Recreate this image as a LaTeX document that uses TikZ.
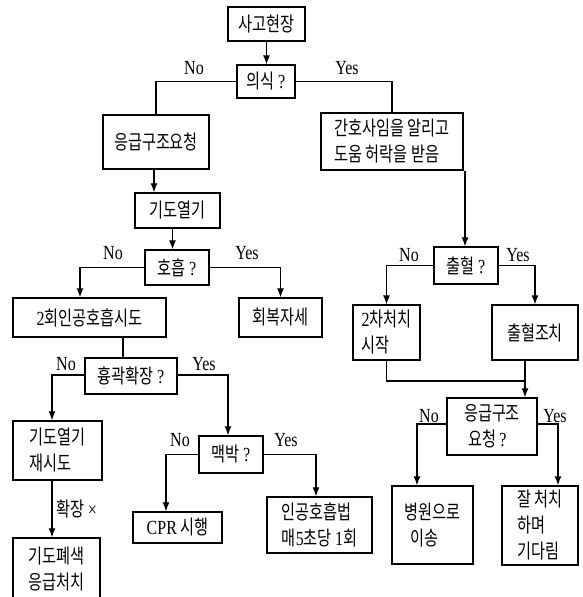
\documentclass[tikz,border=0pt]{standalone}
\usepackage{fontspec}
\setmainfont[FakeStretch=0.76]{Noto Sans CJK KR}
\newfontfamily\lat[FakeStretch=0.8]{Liberation Serif}
\usetikzlibrary{arrows.meta}
\begin{document}
\begin{tikzpicture}[x=1pt,y=-1pt,
  font=\fontsize{20}{26}\selectfont,
  box/.style={draw, line width=1.5pt, inner sep=0pt, align=left, anchor=center},
  conn/.style={line width=1.1pt},
  arr/.style={conn, -{Latex[length=9pt,width=7pt]}},
  lab/.style={font=\lat\fontsize{20}{20}\selectfont, inner sep=0pt}]
\useasboundingbox (0,0) rectangle (582,597);
\clip (0,0) rectangle (582,597);

% boxes
\node[box, minimum width=77pt, minimum height=34pt] (scene) at (266.5,24) {사고현장};
\node[box, minimum width=58pt, minimum height=33pt] (q1) at (266,81.5) {의식 {\lat ?}};
\node[box, minimum width=106pt, minimum height=54pt] (call) at (156,142) {응급구조요청};
\node[box, minimum width=142pt, minimum height=57pt] (notify) at (392,141.5) {간호사임을 알리고\\도움 허락을 받음};
\node[box, minimum width=85pt, minimum height=35pt] (open) at (177.5,210.5) {기도열기};
\node[box, minimum width=64pt, minimum height=35pt] (q2) at (177,267.5) {호흡 {\lat ?}};
\node[box, minimum width=153pt, minimum height=39pt] (rb) at (89.5,317.5) {{\lat 2}회인공호흡시도};
\node[box, minimum width=83pt, minimum height=39pt] (rec) at (280.5,317.5) {회복자세};
\node[box, minimum width=92pt, minimum height=36pt] (q3) at (131,376) {흉곽확장 {\lat ?}};
\node[box, minimum width=89pt, minimum height=59pt] (retry) at (57.5,450.5) {기도열기\\재시도};
\node[box, minimum width=87pt, minimum height=62pt] (obst) at (56.5,569) {기도폐색\\응급처치};
\node[box, minimum width=64pt, minimum height=37pt] (q4) at (231,454.5) {맥박 {\lat ?}};
\node[box, minimum width=89pt, minimum height=31pt] (cpr) at (177.5,527.5) {{\lat CPR} 시행};
\node[box, minimum width=105pt, minimum height=56pt] (ar) at (319.5,525) {인공호흡법\\매{\lat 5}초당 {\lat 1}회};
\node[box, minimum width=64pt, minimum height=37pt] (q5) at (466,265.5) {출혈 {\lat ?}};
\node[box, minimum width=67pt, minimum height=55pt] (sec) at (386.5,332.5) {{\lat 2}차처치\\시작};
\node[box, minimum width=86pt, minimum height=55pt] (bleed) at (535,332.5) {출혈조치};
\node[box, minimum width=90pt, minimum height=57pt] (q6) at (492,426.5) {응급구조\\\hspace{4pt}요청 {\lat ?}};
\node[box, minimum width=81pt, minimum height=78pt] (hosp) at (432.5,525) {병원으로\\\hspace{6pt}이송};
\node[box, minimum width=76pt, minimum height=79pt] (wait) at (540,525.5) {잘 처치\\하며\\기다림};

% connectors
\draw[arr] (scene.south) -- (scene.south |- q1.north);
\draw[conn] (q1.west) -| (call.north);
\draw[conn] (q1.east) -| (notify.north);
\draw[arr] ([xshift=-2pt]call.south) -- ([xshift=-2pt]call.south |- open.north);
\draw[arr] ([xshift=-5pt]open.south) -- ([xshift=-5pt]open.south |- q2.north);
\draw[arr] (q2.west) -| ([xshift=-9.5pt]rb.north);
\draw[arr] (q2.east) -| (rec.north);
\draw[conn] ([xshift=33.5pt]rb.south) -- ([xshift=33.5pt]rb.south |- q3.north);
\draw[arr] ([yshift=1pt]q3.west) -| ([xshift=-5.5pt]retry.north);
\draw[arr] ([yshift=1pt]q3.east) -| ([xshift=-3pt]q4.north);
\draw[arr] ([xshift=-5.5pt]retry.south) -- ([xshift=-5.5pt]retry.south |- obst.north)
  node[midway, right, inner sep=4pt] {확장 {\lat ×}};
\draw[arr] (q4.west) -| ([xshift=-11.5pt]cpr.north);
\draw[arr] (q4.east) -| ([xshift=-3.5pt]ar.north);
\draw[arr] ([xshift=73pt]notify.south) -- ([xshift=73pt]notify.south |- q5.north);
\draw[arr] (q5.west) -| (sec.north);
\draw[arr] (q5.east) -| (bleed.north);
\coordinate (m) at (525,381);
\draw[conn] (sec.south) |- (m);
\draw[arr] ([xshift=-10pt]bleed.south) -- ([xshift=-10pt]bleed.south |- q6.north);
\draw[arr] ([yshift=2.5pt]q6.west) -| ([xshift=-15.5pt]hosp.north);
\draw[arr] ([yshift=2.5pt]q6.east) -| ([xshift=18pt]wait.north);

% labels
\node[lab] (l1n) at (194,68) {No};
\node[lab] (l1y) at (347,68) {Yes};
\node[lab] (l2n) at (113,253) {No};
\node[lab] (l2y) at (247,253) {Yes};
\node[lab] (l3n) at (66,364) {No};
\node[lab] (l3y) at (204,364) {Yes};
\node[lab] (l4n) at (180,440) {No};
\node[lab] (l4y) at (286,440) {Yes};
\node[lab] (l5n) at (409,255) {No};
\node[lab] (l5y) at (518,255) {Yes};
\node[lab] (l6n) at (429,416) {No};
\node[lab] (l6y) at (555,416) {Yes};
\end{tikzpicture}
\end{document}
